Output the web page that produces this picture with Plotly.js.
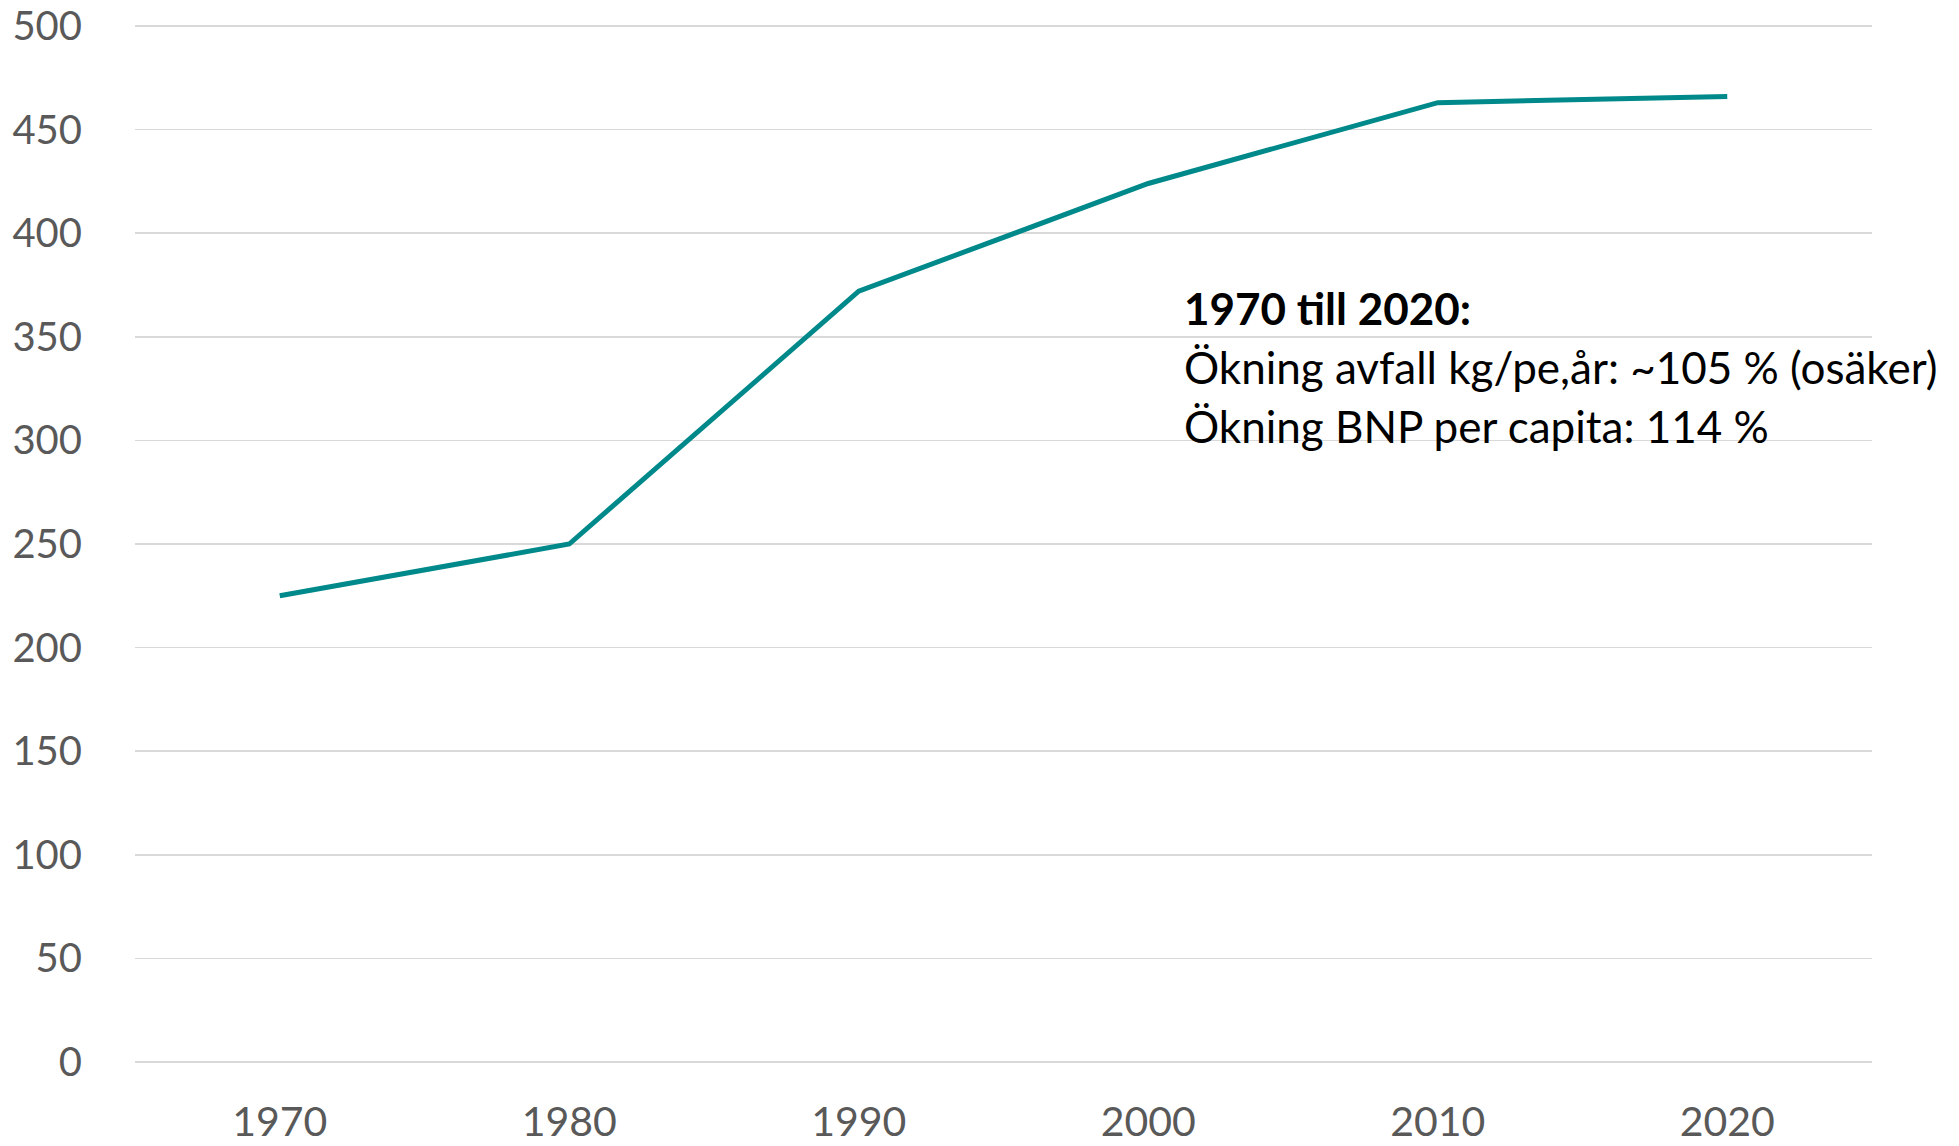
<!DOCTYPE html>
<html>
<head>
<meta charset="utf-8">
<script src="https://cdn.plot.ly/plotly-3.0.1.min.js"></script>
<style>html,body{margin:0;padding:0;background:#fff;}#chart{width:1959px;height:1146px;}</style>
</head>
<body>
<div id="chart"></div>
<script>
const years = ['1970', '1980', '1990', '2000', '2010', '2020'];
const wasteKgPerPerson = [225, 250, 372, 424, 463, 466];
const yTicks = [0, 50, 100, 150, 200, 250, 300, 350, 400, 450, 500];
const noteLines = ['1970 till 2020:', 'Ökning avfall kg/pe,år: ~105 % (osäker)', 'Ökning BNP per capita: 114 %'];

const FONT = 'Lato, "Open Sans", sans-serif';

const trace = {
  x: years,
  y: wasteKgPerPerson,
  type: 'scatter',
  mode: 'lines',
  line: {color: '#00898A', width: 5},
  hoverinfo: 'x+y'
};

const noteY = [0.7274, 0.6705, 0.6137];
const annotations = noteLines.map((t, i) => ({
  xref: 'paper', yref: 'paper',
  x: 0.603, y: noteY[i],
  xanchor: 'left', yanchor: 'middle',
  text: i === 0 ? '<b>' + t + '</b>' : t,
  showarrow: false,
  font: {family: FONT, size: 44, color: '#000000'}
}));

const layout = {
  width: 1959, height: 1146,
  margin: {l: 135, r: 87, t: 25, b: 84},
  paper_bgcolor: '#ffffff', plot_bgcolor: '#ffffff',
  showlegend: false,
  xaxis: {
    type: 'category',
    range: [-0.5, 5.5],
    showgrid: false, zeroline: false, showline: false,
    ticks: 'outside', ticklen: 24, tickcolor: 'rgba(0,0,0,0)',
    tickfont: {family: FONT, size: 41, color: '#595959'},
    ticklabeloverflow: 'allow'
  },
  yaxis: {
    range: [0, 500.5],
    tickvals: yTicks,
    ticktext: yTicks.map(String),
    showgrid: true, gridcolor: '#D9D9D9', gridwidth: 1.5,
    zeroline: true, zerolinecolor: '#D9D9D9', zerolinewidth: 1.5,
    showline: false,
    ticks: 'outside', ticklen: 44, tickcolor: 'rgba(0,0,0,0)',
    tickfont: {family: FONT, size: 40, color: '#595959'},
    ticklabeloverflow: 'allow'
  },
  annotations: annotations
};

Plotly.newPlot('chart', [trace], layout, {displayModeBar: false, staticPlot: true});
</script>
</body>
</html>
